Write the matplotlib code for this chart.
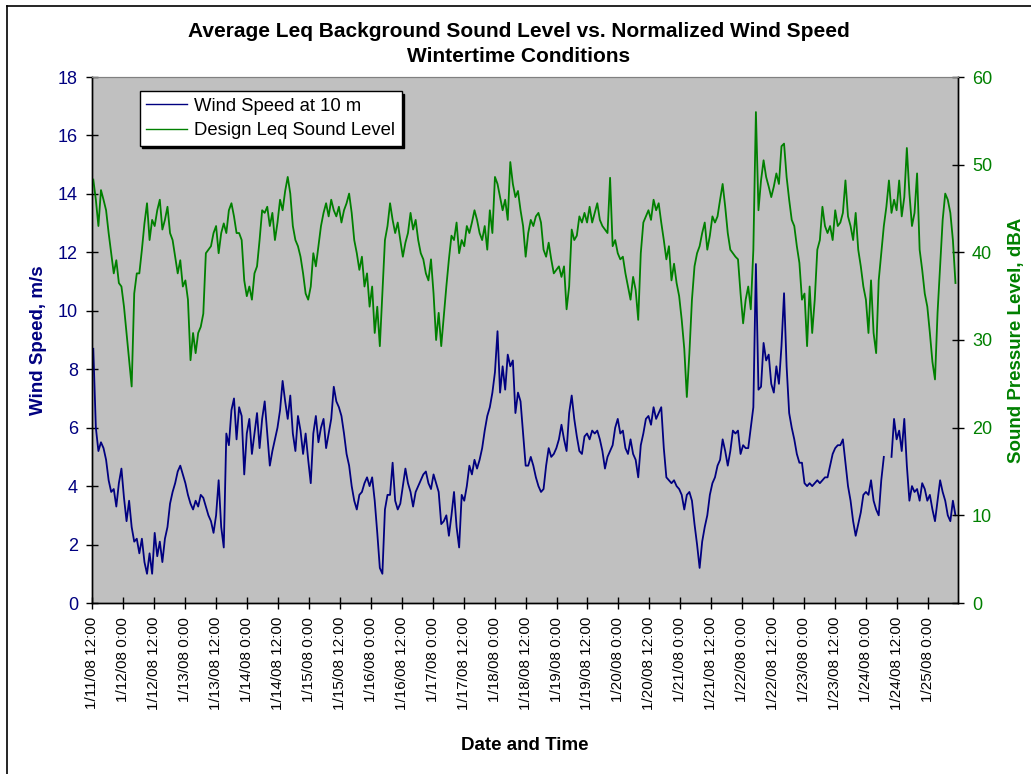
import matplotlib
matplotlib.use('Agg')
import matplotlib.pyplot as plt
import matplotlib.dates as mdates
from matplotlib.lines import Line2D
import numpy as np
import pandas as pd

plt.rcParams['font.family'] = ['Liberation Sans', 'DejaVu Sans']

# readings, first one at 1/11/08 12:30, roughly hourly
start_time = '2008-01-11 12:30'
step = '3569s'

wind_speed = [
    8.7, 6.0, 5.2, 5.5, 5.3, 4.9, 4.2, 3.8, 3.9, 3.3, 4.1, 4.6,
    3.6, 2.8, 3.5, 2.6, 2.1, 2.2, 1.7, 2.2, 1.4, 1.0, 1.7, 1.0,
    2.4, 1.6, 2.1, 1.4, 2.2, 2.6, 3.4, 3.8, 4.1, 4.5, 4.7, 4.4,
    4.1, 3.7, 3.4, 3.2, 3.5, 3.3, 3.7, 3.6, 3.3, 3.0, 2.8, 2.4,
    3.0, 4.2, 2.6, 1.9, 5.8, 5.4, 6.6, 7.0, 5.6, 6.7, 6.4, 4.4,
    5.8, 6.3, 5.1, 5.8, 6.5, 5.3, 6.3, 6.9, 5.8, 4.7, 5.2, 5.6,
    6.0, 6.6, 7.6, 6.9, 6.3, 7.1, 5.8, 5.2, 6.4, 5.9, 5.1, 5.8,
    4.9, 4.1, 5.8, 6.4, 5.5, 6.0, 6.3, 5.3, 5.8, 6.3, 7.4, 6.9,
    6.7, 6.4, 5.8, 5.1, 4.7, 4.0, 3.5, 3.2, 3.7, 3.8, 4.1, 4.3,
    4.0, 4.3, 3.5, 2.4, 1.2, 1.0, 3.2, 3.7, 3.7, 4.8, 3.5, 3.2,
    3.4, 4.0, 4.6, 4.1, 3.8, 3.3, 3.8, 4.0, 4.2, 4.4, 4.5, 4.1,
    3.9, 4.4, 4.1, 3.8, 2.7, 2.8, 3.0, 2.3, 3.0, 3.8, 2.6, 1.9,
    3.7, 3.5, 4.0, 4.7, 4.4, 4.9, 4.6, 4.9, 5.3, 5.9, 6.4, 6.7,
    7.2, 7.9, 9.3, 7.2, 8.1, 7.3, 8.5, 8.1, 8.3, 6.5, 7.2, 6.9,
    5.8, 4.7, 4.7, 5.0, 4.7, 4.3, 4.0, 3.8, 3.9, 4.7, 5.3, 5.0,
    5.1, 5.3, 5.6, 6.1, 5.6, 5.2, 6.5, 7.1, 6.3, 5.7, 5.2, 5.1,
    5.7, 5.8, 5.6, 5.9, 5.8, 5.9, 5.6, 5.2, 4.6, 5.0, 5.2, 5.4,
    6.0, 6.3, 5.8, 5.9, 5.3, 5.1, 5.6, 5.1, 4.9, 4.3, 5.4, 5.8,
    6.3, 6.4, 6.1, 6.7, 6.3, 6.5, 6.7, 5.3, 4.3, 4.2, 4.1, 4.2,
    4.0, 3.9, 3.7, 3.2, 3.7, 3.8, 3.5, 2.7, 2.0, 1.2, 2.1, 2.6,
    3.0, 3.7, 4.1, 4.3, 4.7, 4.9, 5.6, 5.2, 4.7, 5.2, 5.9, 5.8,
    5.9, 5.1, 5.4, 5.3, 5.3, 6.0, 6.7, 11.6, 7.3, 7.4, 8.9, 8.3,
    8.5, 7.5, 7.2, 8.1, 7.5, 8.8, 10.6, 8.1, 6.5, 6.0, 5.6, 5.1,
    4.8, 4.8, 4.1, 4.0, 4.1, 4.0, 4.1, 4.2, 4.1, 4.2, 4.3, 4.3,
    4.7, 5.1, 5.3, 5.4, 5.4, 5.6, 4.8, 4.0, 3.5, 2.8, 2.3, 2.7,
    3.1, 3.7, 3.8, 3.7, 4.2, 3.5, 3.2, 3.0, 4.2, 5.0, np.nan, np.nan,
    5.0, 6.3, 5.6, 5.9, 5.2, 6.3, 4.7, 3.5, 4.0, 3.8, 3.9, 3.5,
    4.1, 3.9, 3.5, 3.7, 3.2, 2.8, 3.5, 4.2, 3.8, 3.5, 3.0, 2.8,
    3.5, 3.0,
]

sound_level = [
    48.3, 46.0, 43.0, 47.1, 46.0, 44.8, 42.2, 39.9, 37.6, 39.1, 36.5, 36.1,
    33.8, 30.8, 27.7, 24.7, 35.3, 37.6, 37.6, 40.3, 43.3, 45.6, 41.4, 43.7,
    43.0, 44.8, 46.0, 42.6, 43.7, 45.2, 42.2, 41.4, 39.5, 37.6, 39.1, 36.1,
    36.8, 34.6, 27.7, 30.8, 28.5, 30.8, 31.5, 33.0, 39.9, 40.3, 40.7, 42.2,
    43.0, 39.9, 42.2, 43.3, 42.2, 44.8, 45.6, 44.1, 42.2, 42.2, 41.4, 36.8,
    35.0, 36.1, 34.6, 37.6, 38.4, 41.4, 44.8, 44.5, 45.2, 43.0, 44.5, 41.4,
    43.4, 46.0, 44.8, 47.0, 48.6, 46.7, 43.0, 41.4, 40.7, 39.5, 37.6, 35.3,
    34.6, 36.1, 39.9, 38.4, 40.7, 43.0, 44.5, 45.6, 44.1, 46.0, 44.8, 44.1,
    45.2, 43.4, 44.8, 45.6, 46.7, 44.5, 41.4, 39.9, 38.0, 39.5, 36.1, 37.6,
    33.8, 36.1, 30.8, 33.8, 29.3, 35.3, 41.4, 43.0, 45.6, 43.7, 42.2, 43.4,
    41.4, 39.5, 41.1, 42.2, 44.5, 42.6, 43.7, 41.4, 39.9, 39.2, 37.6, 36.8,
    39.2, 35.3, 30.0, 33.1, 29.3, 32.7, 36.1, 39.2, 41.9, 41.4, 43.4, 39.9,
    41.4, 40.7, 43.0, 42.2, 43.4, 44.8, 43.7, 42.2, 41.4, 43.0, 40.3, 44.8,
    42.2, 48.6, 47.8, 46.3, 44.8, 46.0, 43.7, 50.3, 47.8, 46.3, 47.0, 44.8,
    43.0, 39.5, 42.2, 43.7, 43.0, 44.1, 44.5, 43.4, 40.3, 39.5, 41.1, 39.2,
    37.6, 38.0, 38.4, 37.2, 38.4, 33.5, 36.1, 42.6, 41.4, 41.9, 44.1, 43.4,
    44.5, 43.4, 45.2, 43.4, 44.5, 45.6, 43.7, 43.0, 42.6, 42.2, 48.5, 40.7,
    41.4, 39.9, 39.2, 39.5, 37.6, 36.1, 34.6, 37.2, 35.7, 32.3, 39.9, 43.4,
    44.1, 44.8, 43.7, 46.0, 44.8, 45.6, 43.4, 41.4, 39.2, 40.7, 36.8, 38.7,
    36.5, 35.0, 32.3, 29.0, 23.5, 28.5, 34.6, 38.4, 39.9, 40.7, 42.2, 43.4,
    40.3, 41.9, 44.1, 43.4, 44.1, 46.0, 47.8, 45.2, 42.2, 40.3, 39.9, 39.5,
    39.2, 35.3, 31.9, 34.6, 36.1, 33.5, 40.3, 56.0, 44.8, 48.2, 50.5, 48.6,
    47.5, 46.3, 47.5, 49.0, 47.8, 52.1, 52.4, 48.6, 46.0, 43.7, 43.0, 40.7,
    38.8, 34.6, 35.3, 29.3, 36.1, 30.8, 34.6, 40.3, 41.4, 45.2, 43.0, 42.2,
    43.0, 41.4, 44.8, 43.0, 43.4, 44.5, 48.2, 44.1, 43.0, 41.4, 44.5, 40.3,
    38.4, 36.1, 34.6, 30.8, 36.8, 30.8, 28.5, 36.8, 39.9, 43.0, 45.2, 48.2,
    44.5, 46.0, 44.8, 48.2, 44.1, 46.3, 51.9, 46.7, 43.0, 44.5, 49.0, 40.3,
    38.0, 35.3, 33.8, 30.8, 27.5, 25.5, 33.1, 38.4, 43.7, 46.7, 46.0, 44.5,
    41.4, 36.5,
]

times = pd.date_range(start_time, periods=len(wind_speed), freq=step)

fig = plt.figure(figsize=(10.31, 7.74), dpi=100)
ax = fig.add_axes([92 / 1031, 1 - 603 / 774, 866 / 1031, 526 / 774])
ax.set_facecolor('#C0C0C0')
ax2 = ax.twinx()

wind_line, = ax.plot(times, wind_speed, color='#000080', lw=1.3)
sound_line, = ax2.plot(times, sound_level, color='#008000', lw=1.3)

ax.set_xlim(pd.Timestamp('2008-01-11 12:00'), pd.Timestamp('2008-01-25 11:35'))
ax.set_ylim(0, 18)
ax.set_yticks(range(0, 19, 2))
ax2.set_ylim(0, 60)
ax2.set_yticks(range(0, 61, 10))

ax.xaxis.set_major_locator(mdates.HourLocator(byhour=[0, 12]))
ax.xaxis.set_major_formatter(plt.FuncFormatter(
    lambda v, pos: (lambda d: f"{d.month}/{d.day}/{d:%y} {d.hour}:{d:%M}")(mdates.num2date(v))))
for lab in ax.get_xticklabels():
    lab.set_rotation(90)

ax.tick_params(axis='x', direction='inout', length=8, width=1, labelsize=11, pad=6)
ax.tick_params(axis='y', direction='inout', length=8, width=1, labelsize=13,
               labelcolor='#000080', pad=6)
ax2.tick_params(axis='y', direction='inout', length=8, width=1, labelsize=13,
                labelcolor='#008000', pad=6)

for a in (ax, ax2):
    a.spines['top'].set_color('#808080')
    a.spines['top'].set_linewidth(0.8)
    for s in ('left', 'right', 'bottom'):
        a.spines[s].set_color('black')
        a.spines[s].set_linewidth(1.0)

ax.set_ylabel('Wind Speed, m/s', color='#000080', fontsize=13.5, fontweight='bold')
ax.yaxis.set_label_coords(-0.052, 0.5)
ax2.set_ylabel('Sound Pressure Level, dBA', color='#008000', fontsize=13.5, fontweight='bold')
ax2.yaxis.set_label_coords(1.058, 0.5)
ax.set_xlabel('Date and Time', fontsize=13.5, fontweight='bold')
ax.xaxis.set_label_coords(0.5, -0.255)

fig.text(519 / 1031, 1 - 44 / 774,
         'Average Leq Background Sound Level vs. Normalized Wind Speed\nWintertime Conditions',
         ha='center', va='center', fontsize=15, fontweight='bold', linespacing=1.4)

leg = ax2.legend([wind_line, sound_line], ['Wind Speed at 10 m', 'Design Leq Sound Level'],
                 loc='upper left', bbox_to_anchor=(0.055, 0.973), borderaxespad=0,
                 fontsize=13.3, frameon=True, fancybox=False, edgecolor='black',
                 framealpha=1, handlelength=2.2, handletextpad=0.4, labelspacing=0.4,
                 borderpad=0.35, shadow={'color': 'black', 'alpha': 1})
leg.get_frame().set_linewidth(1.0)
for h in leg.get_lines():
    h.set_linewidth(1.0)

# outer chart border (left and top edges visible)
fig.add_artist(Line2D([7 / 1031, 7 / 1031], [0, 1 - 6 / 774], color='black', lw=1.2,
                      transform=fig.transFigure))
fig.add_artist(Line2D([7 / 1031, 1], [1 - 6 / 774, 1 - 6 / 774], color='black', lw=1.2,
                      transform=fig.transFigure))

fig.savefig('out.png', dpi=100)
